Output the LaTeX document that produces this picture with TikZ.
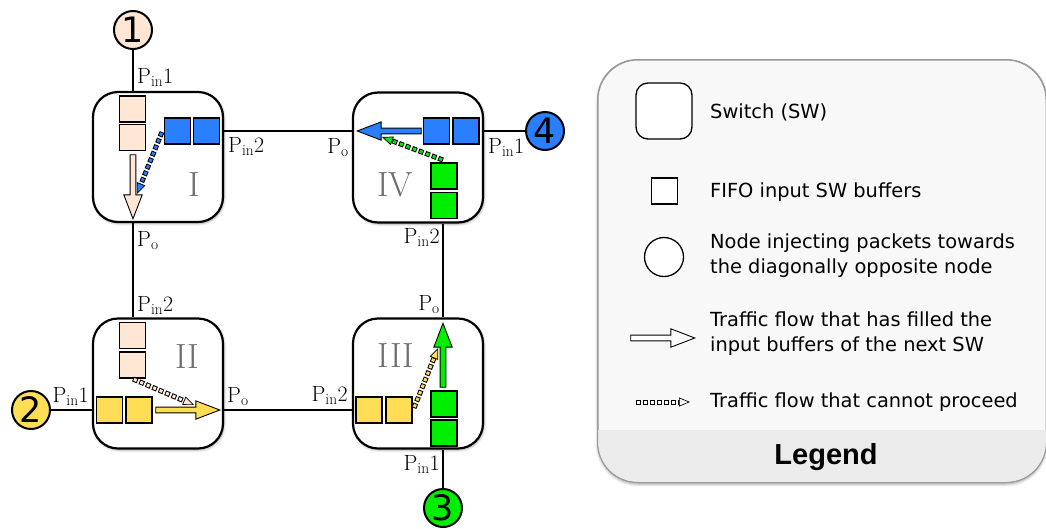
\documentclass[tikz,border=0pt]{standalone}
\usepackage{fontspec}
\newfontfamily\djv{DejaVu Sans}
\newfontfamily\arialf{Liberation Sans}
\usetikzlibrary{shapes.arrows,shapes.geometric,arrows.meta,calc,shadows.blur}
\definecolor{cpeach}{HTML}{FFE6D5}
\definecolor{cyel}{HTML}{FFDD55}
\definecolor{cgreen}{HTML}{00EE00}
\definecolor{cblue}{HTML}{2A7FFF}
\definecolor{cnum}{HTML}{6E6E6E}
\definecolor{legfill}{HTML}{F8F8F8}
\definecolor{legband}{HTML}{EBEBEB}
\definecolor{legline}{HTML}{9A9A9A}
\tikzset{
 sw/.style={draw, line width=2.2pt, fill=white, rounded corners=25pt, minimum size=130pt, inner sep=0,
   blur shadow={shadow xshift=1pt, shadow yshift=-1.5pt, shadow blur radius=2.5pt, shadow opacity=35}},
 bufbox/.style={draw, line width=1.1pt, minimum size=26pt, inner sep=0},
 inj/.style={circle, draw, line width=2pt, minimum size=38pt, inner sep=0, font=\djv\fontsize{35}{35}\selectfont},
 plabel/.style={inner sep=0, font=\fontsize{22}{26}\selectfont},
 numeral/.style={inner sep=0, text=cnum, font=\fontsize{35}{35}\selectfont},
 flowarrow/.style={single arrow, draw=black, line width=0.9pt, inner sep=2.4pt, minimum height=64pt,
   single arrow head extend=6.3pt, single arrow tip angle=42, anchor=tip},
 link/.style={line width=2.8pt},
 legtext/.style={inner sep=0, anchor=west, align=left, font=\djv\fontsize{19.4}{25}\selectfont},
}
\newcommand\stuckflow[3]{%
 \draw[line width=5pt, black, dash pattern=on 5pt off 2pt, shorten >=10pt] (#2) -- (#3);
 \draw[line width=3pt, #1, dash pattern=on 3pt off 4pt, dash phase=6pt, shorten >=10pt] (#2) -- (#3);
 \draw[black, line width=0.7pt, -{Triangle[length=11pt,width=9pt,fill=#1]}] ($(#3)!11pt!(#2)$) -- (#3);
}
\begin{document}
\begin{tikzpicture}[x=1pt,y=-1pt]
\useasboundingbox (0,0) rectangle (1046,528);

% ---------- legend ----------
\node[draw=legline, line width=1pt, fill=legfill, rounded corners=40pt, minimum width=448pt,
  minimum height=422pt, inner sep=0,
  blur shadow={shadow xshift=0pt, shadow yshift=-2pt, shadow blur radius=3pt, shadow opacity=40}] (legend) at (822,271) {};
\begin{scope}
  \clip[rounded corners=40pt] (598,60) rectangle (1046,482);
  \fill[legband] (598,430) rectangle (1046,482);
\end{scope}
\draw[legline, line width=1pt, rounded corners=40pt] (legend.north west) rectangle (legend.south east);

\node[draw, line width=1.3pt, rounded corners=12pt, minimum size=56pt, fill=white, inner sep=0] (lsw) at (664,111) {};
\node[bufbox, fill=white] (lbuf) at (664.5,191) {};
\node[circle, draw, line width=1.3pt, minimum size=39pt, inner sep=0, fill=white] (linj) at (664,257) {};
\coordinate (lfb) at (696,338);
\node[flowarrow, fill=white] (lflow) at (lfb) {};
\coordinate (lsa) at (636,402); \coordinate (lsb) at (690,402);
\stuckflow{white}{lsa}{lsb}

\node[legtext] (t1) at (710,112) {Switch (SW)};
\node[legtext] (t2) at (710,192) {FIFO input SW buffers};
\node[legtext] (t3) at (710,255.5) {Node injecting packets towards\\the diagonally opposite node};
\node[legtext] (t4) at (710,334) {Traffic flow that has filled the\\input buffers of the next SW};
\node[legtext] (t5) at (710,402) {Traffic flow that cannot proceed};
\node[inner sep=0, font=\arialf\bfseries\fontsize{29}{29}\selectfont] (tleg) at (826,457) {Legend};

% ---------- network ----------
\node[inj, fill=cpeach] (n1) at (133,30) {1};
\node[inj, fill=cyel] (n2) at (31,410) {2};
\node[inj, fill=cgreen] (n3) at (443,508) {3};
\node[inj, fill=cblue] (n4) at (545,131) {4};

\node[sw] (sI) at (158,157) {};
\node[sw] (sIV) at (418,157.5) {};
\node[sw] (sII) at (158,383.5) {};
\node[sw] (sIII) at (418,383.5) {};

\draw[link] (n1) -- (n1 |- sI.north);
\draw[link] (sI.south -| n1) -- (sII.north -| n1);
\draw[link] (n2) -- (n2 -| sII.west);
\draw[link] (sII.east |- n2) -- (sIII.west |- n2);
\draw[link] (n4) -- (n4 -| sIV.east);
\draw[link] (sIV.west |- n4) -- (sI.east |- n4);
\draw[link] (n3) -- (n3 |- sIII.south);
\draw[link] (sIII.north -| n3) -- (sIV.south -| n3);

% buffers
\node[bufbox, fill=cpeach] (bI1) at (132.5,109) {};
\node[bufbox, fill=cpeach] (bI2) at (132.5,137.5) {};
\node[bufbox, fill=cblue] (bI3) at (177.5,131) {};
\node[bufbox, fill=cblue] (bI4) at (206.5,131) {};
\node[bufbox, fill=cblue] (bIV1) at (436.5,131) {};
\node[bufbox, fill=cblue] (bIV2) at (466,131) {};
\node[bufbox, fill=cgreen] (bIV3) at (444,176) {};
\node[bufbox, fill=cgreen] (bIV4) at (444,205.5) {};
\node[bufbox, fill=cpeach] (bII1) at (132.5,335.5) {};
\node[bufbox, fill=cpeach] (bII2) at (132.5,365) {};
\node[bufbox, fill=cyel] (bII3) at (109.5,410) {};
\node[bufbox, fill=cyel] (bII4) at (139,410) {};
\node[bufbox, fill=cyel] (bIII1) at (369,410) {};
\node[bufbox, fill=cyel] (bIII2) at (399,410) {};
\node[bufbox, fill=cgreen] (bIII3) at (444,404) {};
\node[bufbox, fill=cgreen] (bIII4) at (444,433) {};

% flows that filled next buffers
\node[flowarrow, fill=cpeach, rotate=-90] (aI) at (133,220) {};
\node[flowarrow, fill=cblue, rotate=180] (aIV) at (356,131) {};
\node[flowarrow, fill=cyel] (aII) at (221,410) {};
\node[flowarrow, fill=cgreen, rotate=90] (aIII) at (443,322) {};

% flows that cannot proceed
\coordinate (dIa) at (162,132); \coordinate (dIb) at (137,194);
\stuckflow{cblue}{dIa}{dIb}
\coordinate (dIVa) at (443,160); \coordinate (dIVb) at (382,137);
\stuckflow{cgreen}{dIVa}{dIVb}
\coordinate (dIIa) at (133,379); \coordinate (dIIb) at (194,405);
\stuckflow{cpeach}{dIIa}{dIIb}
\coordinate (dIIIa) at (414,408); \coordinate (dIIIb) at (438,348);
\stuckflow{cyel}{dIIIa}{dIIIb}

% numerals
\node[numeral] (rI) at (194,185) {I};
\node[numeral] (rII) at (187,357) {II};
\node[numeral] (rIII) at (396,356) {III};
\node[numeral] (rIV) at (395,185) {IV};

% port labels
\node[plabel, anchor=base west] (p1) at (137,83) {$\mathrm{P_{in}1}$};
\node[plabel, anchor=base west] (p2) at (228,152) {$\mathrm{P_{in}2}$};
\node[plabel, anchor=base west] (p3) at (137,246) {$\mathrm{P_{o}}$};
\node[plabel, anchor=base east] (p4) at (349,153) {$\mathrm{P_{o}}$};
\node[plabel, anchor=base west] (p5) at (488,153) {$\mathrm{P_{in}1}$};
\node[plabel, anchor=base east] (p6) at (440,243) {$\mathrm{P_{in}2}$};
\node[plabel, anchor=base west] (p7) at (137,311) {$\mathrm{P_{in}2}$};
\node[plabel, anchor=base east] (p8) at (89,402) {$\mathrm{P_{in}1}$};
\node[plabel, anchor=base west] (p9) at (227,402) {$\mathrm{P_{o}}$};
\node[plabel, anchor=base east] (p10) at (440,310) {$\mathrm{P_{o}}$};
\node[plabel, anchor=base east] (p11) at (348,401) {$\mathrm{P_{in}2}$};
\node[plabel, anchor=base east] (p12) at (440,470) {$\mathrm{P_{in}1}$};
\end{tikzpicture}
\end{document}
